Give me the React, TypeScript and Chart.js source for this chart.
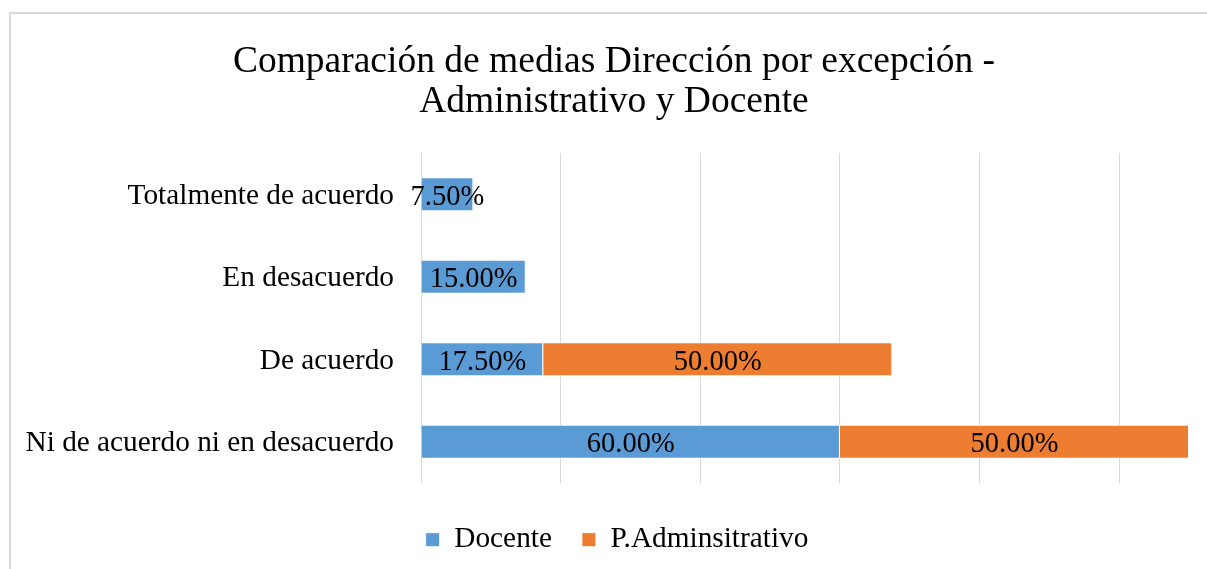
import React, { useEffect, useRef } from "react";
import { Chart, registerables } from "chart.js";

Chart.register(...registerables);

const categories = [
  "Totalmente de acuerdo",
  "En desacuerdo",
  "De acuerdo",
  "Ni de acuerdo ni en desacuerdo",
];
const docente = [7.5, 15, 17.5, 60];
const administrativo = [0, 0, 50, 50];
const titleLines = ["Comparación de medias Dirección por excepción -", "Administrativo y Docente"];
const seriesNames = ["Docente", "P.Adminsitrativo"];

const FONT = "'Liberation Serif', 'Times New Roman', serif";

const dataLabelPlugin = {
  id: "dataLabels",
  afterDatasetsDraw(chart: any) {
    const ctx = chart.ctx;
    ctx.save();
    ctx.font = `28.5px ${FONT}`;
    ctx.fillStyle = "#000";
    ctx.textAlign = "center";
    ctx.textBaseline = "middle";
    chart.data.datasets.forEach((ds: any, di: number) => {
      const meta = chart.getDatasetMeta(di);
      meta.data.forEach((bar: any, i: number) => {
        const v = ds.data[i];
        if (!v) return;
        const cx = (bar.x + bar.base) / 2;
        ctx.fillText(v.toFixed(2) + "%", cx, bar.y + 3);
      });
    });
    ctx.restore();
  },
};

// Centre the title and legend on the whole chart frame (as the original does),
// while the category axis keeps the full left margin for its labels.
const centerShiftPlugin = {
  id: "centerShift",
  afterLayout(chart: any) {
    if (chart.titleBlock) chart.titleBlock.left = 39;
    if (chart.legend) chart.legend.left = 45;
  },
};

export default function App() {
  const ref = useRef<HTMLCanvasElement>(null);
  useEffect(() => {
    if (!ref.current) return;
    const chart = new Chart(ref.current, {
      type: "bar",
      data: {
        labels: categories,
        datasets: [
          {
            label: seriesNames[0],
            data: docente,
            backgroundColor: "#5B9BD5",
            borderColor: "rgba(255,255,255,0.9)",
            borderWidth: 1,
            barPercentage: 0.41,
            categoryPercentage: 1,
          },
          {
            label: seriesNames[1],
            data: administrativo,
            backgroundColor: "#ED7D31",
            borderColor: "rgba(255,255,255,0.9)",
            borderWidth: 1,
            barPercentage: 0.41,
            categoryPercentage: 1,
          },
        ],
      },
      options: {
        indexAxis: "y",
        animation: false,
        responsive: false,
        maintainAspectRatio: false,
        layout: { padding: { top: 32, right: 18, left: 0, bottom: 4.7 } },
        plugins: {
          title: {
            display: true,
            text: titleLines,
            color: "#000",
            font: { family: FONT, size: 37.5, weight: "normal", lineHeight: 1.067 },
            padding: { top: 10, bottom: 31 },
          },
          legend: {
            position: "bottom",
            labels: {
              color: "#000",
              font: { family: FONT, size: 29.3 },
              boxWidth: 14,
              boxHeight: 14,
              padding: 30,
            },
          },
          tooltip: { enabled: false },
        },
        scales: {
          x: {
            stacked: true,
            min: 0,
            max: 110,
            afterFit: (s: any) => {
              s.height = 12;
            },
            ticks: { display: false, stepSize: 20, includeBounds: false },
            grid: {
              color: (c: any) => (c.tick && c.tick.value > 100 ? "transparent" : "#d9d9d9"),
              lineWidth: 1,
              drawTicks: false,
            },
            border: { display: false },
          },
          y: {
            stacked: true,
            afterFit: (s: any) => {
              s.width = 421;
            },
            ticks: {
              color: "#000",
              font: { family: FONT, size: 29.3 },
              padding: 27,
              labelOffset: 2,
            },
            grid: { display: false, drawTicks: false },
            border: { display: false },
          },
        },
      },
      plugins: [dataLabelPlugin, centerShiftPlugin],
    });
    return () => chart.destroy();
  }, []);

  return (
    <div style={{ position: "fixed", left: 0, top: 0, width: 1207, height: 569, background: "#fff" }}>
      <div
        style={{
          position: "absolute",
          left: 9,
          top: 12,
          width: 1220,
          height: 600,
          borderLeft: "2px solid #d9d9d9",
          borderTop: "2px solid #d9d9d9",
        }}
      />
      <canvas ref={ref} width={1207} height={569} style={{ position: "absolute", left: 0, top: 0 }} />
    </div>
  );
}
